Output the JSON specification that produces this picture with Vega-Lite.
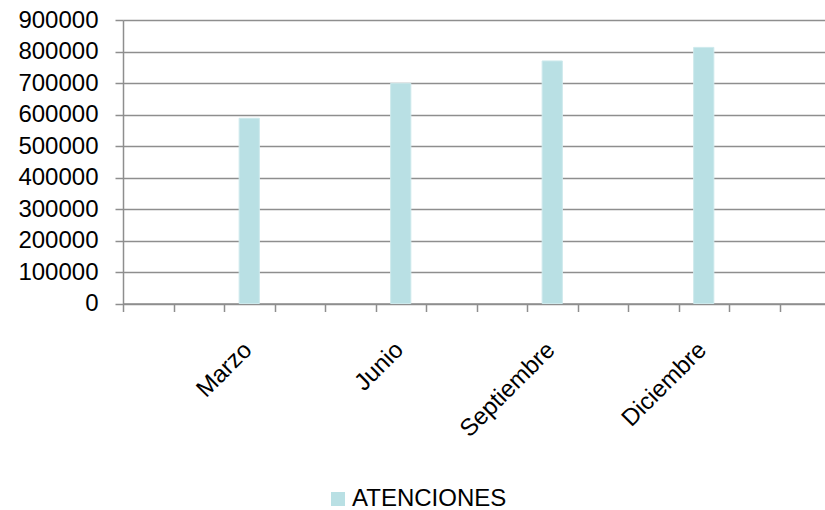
{
  "$schema": "https://vega.github.io/schema/vega-lite/v6.json",
  "width": 707,
  "height": 283.5,
  "autosize": {"type": "none"},
  "padding": {"left": 123, "top": 20, "right": 0, "bottom": 206.5},
  "background": "white",
  "config": {
    "view": {"stroke": null},
    "font": "Liberation Sans"
  },
  "data": {
    "values": [
      {"mes": "Marzo", "atenciones": 588000},
      {"mes": "Junio", "atenciones": 699000},
      {"mes": "Septiembre", "atenciones": 770000},
      {"mes": "Diciembre", "atenciones": 813000}
    ]
  },
  "mark": {"type": "bar", "width": {"band": 0.4}, "stroke": "#cde9ec", "strokeWidth": 1},
  "encoding": {
    "x": {
      "field": "mes",
      "type": "nominal",
      "sort": null,
      "scale": {
        "domain": [" ", "  ", "Marzo", "   ", "    ", "Junio", "     ", "      ", "Septiembre", "       ", "        ", "Diciembre", "         ", "          "],
        "paddingInner": 0,
        "paddingOuter": 0
      },
      "axis": {
        "title": null,
        "grid": false,
        "labelAngle": -45,
        "labelFontSize": 24,
        "labelColor": "black",
        "labelPadding": 26,
        "labelOffset": -10,
        "tickBand": "extent",
        "tickSize": 8,
        "tickColor": "#8e8e8e",
        "tickWidth": 1.5,
        "domainColor": "#8e8e8e",
        "domainWidth": 1.5
      }
    },
    "y": {
      "field": "atenciones",
      "type": "quantitative",
      "scale": {"domain": [0, 900000], "nice": false},
      "axis": {
        "title": null,
        "values": [0, 100000, 200000, 300000, 400000, 500000, 600000, 700000, 800000, 900000],
        "format": "d",
        "labelFontSize": 24,
        "labelColor": "black",
        "labelPadding": 17,
        "tickSize": 8,
        "tickColor": "#8e8e8e",
        "tickWidth": 1.5,
        "domainColor": "#8e8e8e",
        "domainWidth": 1.5,
        "gridColor": "#8e8e8e",
        "gridWidth": 1.5
      }
    },
    "color": {
      "datum": "ATENCIONES",
      "scale": {"range": ["#b9e0e4"]},
      "legend": {
        "title": null,
        "orient": "none",
        "legendX": 203,
        "legendY": 467,
        "padding": 0,
        "symbolType": "square",
        "symbolSize": 196,
        "symbolStrokeWidth": 0,
        "symbolOffset": 0,
        "labelFontSize": 24,
        "labelColor": "black",
        "labelOffset": 2
      }
    }
  }
}
